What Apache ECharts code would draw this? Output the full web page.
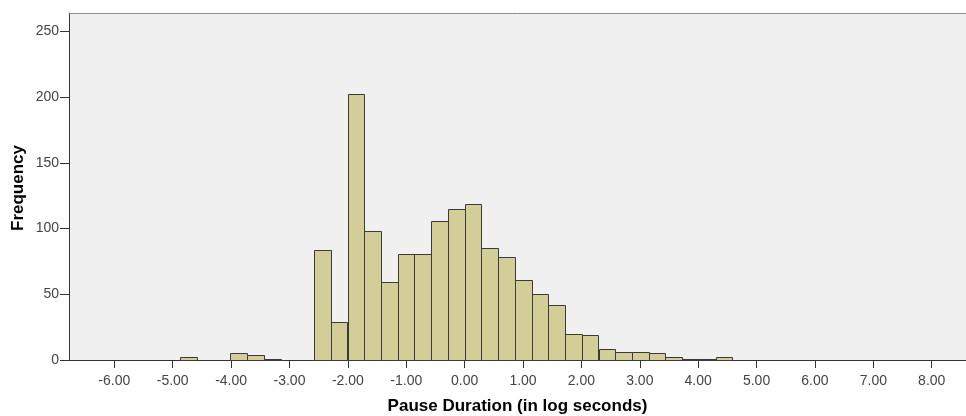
<!DOCTYPE html>
<html>
<head>
<meta charset="utf-8">
<title>Pause Duration histogram</title>
<script src="https://cdn.jsdelivr.net/npm/echarts@6/dist/echarts.min.js"></script>
<style>
  html, body { margin: 0; padding: 0; background: #fff; }
  #chart1 { width: 966px; height: 416px; }
</style>
</head>
<body>
<div id="chart1"></div>
<script>
// 数据 : 每个柱子的下边界 (log seconds) 和频数
var binWidth = 0.2866;
var binLower = [-4.872, -4.012, -3.726, -3.439, -2.579, -2.293, -2.006, -1.720, -1.433, -1.146,
                -0.860, -0.573, -0.287, 0.000, 0.287, 0.573, 0.860, 1.146, 1.433, 1.720,
                2.006, 2.293, 2.579, 2.866, 3.153, 3.439, 3.726, 4.012, 4.299];
var counts = [2, 5, 4, 1, 84, 29, 202, 98, 59, 81,
              81, 106, 115, 119, 85, 78, 61, 50, 42, 20,
              19, 8, 6, 6, 5, 2, 1, 1, 2];
var xTicks = [-6, -5, -4, -3, -2, -1, 0, 1, 2, 3, 4, 5, 6, 7, 8];
var yTicks = [0, 50, 100, 150, 200, 250];

var bins = [];
for (var i = 0; i < binLower.length; i++) {
    bins.push([binLower[i], binLower[i] + binWidth, counts[i]]);
}

var mychart1 = echarts.init(document.getElementById('chart1'));

function renderBar(params, api) {
    var top = api.coord([api.value(0), api.value(2)]);
    var bottom = api.coord([api.value(1), 0]);
    return {
        type: 'rect',
        shape: {
            x: Math.round(top[0]) + 0.5,
            y: Math.round(top[1]) + 0.5,
            width: Math.round(bottom[0]) - Math.round(top[0]),
            height: Math.round(bottom[1]) - Math.round(top[1])
        },
        style: { fill: '#D3CE97', stroke: '#3a3a3a', lineWidth: 1 }
    };
}

var labelFont = { color: '#444', fontSize: 14, fontFamily: 'Liberation Sans' };
var nameFont = { color: '#000', fontSize: 17, fontWeight: 'bold', fontFamily: 'Liberation Sans' };

var option = {
    animation: false,
    grid: {
        left: 69, right: 0, top: 13, bottom: 56,
        outerBoundsMode: 'none',
        show: true, backgroundColor: '#F0F0F0', borderWidth: 0
    },
    // y轴标题用graphic画, 位置更准
    graphic: [{
        type: 'text',
        x: 18, y: 188,
        rotation: Math.PI / 2,
        style: {
            text: 'Frequency',
            fill: '#000',
            font: 'bold 17px "Liberation Sans"',
            align: 'center',
            verticalAlign: 'middle'
        }
    }],
    xAxis: [{
        type: 'value',
        min: -6.776, max: 8.587,
        name: 'Pause Duration (in log seconds)',
        nameLocation: 'middle',
        nameGap: 38,
        nameTextStyle: nameFont,
        splitLine: { show: false },
        axisLine: { onZero: false, lineStyle: { color: '#333', width: 1 } },
        axisTick: { length: 8, customValues: xTicks, lineStyle: { color: '#333' } },
        axisLabel: Object.assign({
            margin: 14,
            customValues: xTicks,
            formatter: function (v) { return v.toFixed(2); }
        }, labelFont)
    }, {
        // 上边框
        type: 'value', position: 'top',
        min: -6.776, max: 8.587,
        axisLine: { onZero: false, lineStyle: { color: '#8f8f8f', width: 1 } },
        axisTick: { show: false }, axisLabel: { show: false }, splitLine: { show: false }
    }],
    yAxis: {
        type: 'value',
        min: 0, max: 264,
        splitLine: { show: false },
        axisLine: { show: true, onZero: false, lineStyle: { color: '#333', width: 1 } },
        axisTick: { show: true, length: 9, customValues: yTicks, lineStyle: { color: '#333' } },
        axisLabel: Object.assign({ margin: 10, customValues: yTicks }, labelFont)
    },
    series: [{
        type: 'custom',
        renderItem: renderBar,
        encode: { x: [0, 1], y: 2 },
        data: bins
    }]
};

mychart1.setOption(option);
</script>
</body>
</html>
